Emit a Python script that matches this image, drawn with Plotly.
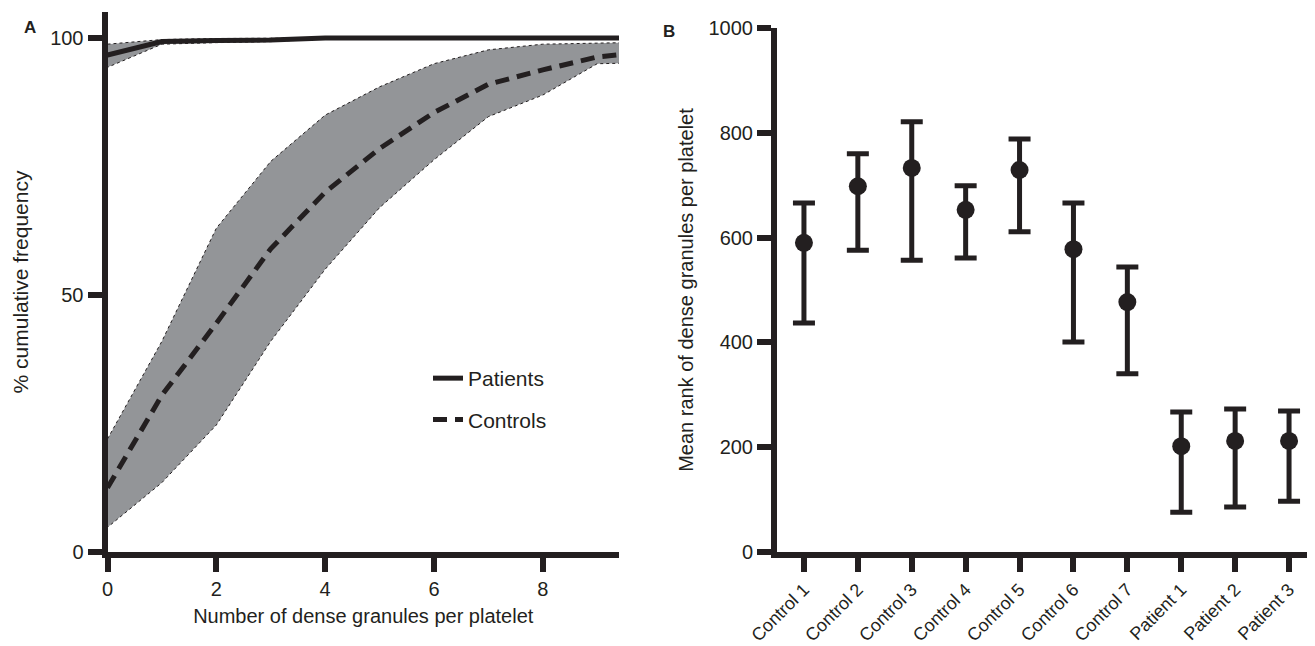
import plotly.graph_objects as go

# ---- Panel A data ----
granules = [0, 1, 2, 3, 4, 5, 6, 7, 8, 9, 10]
patients_mean = [96.7, 99.3, 99.5, 99.6, 100, 100, 100, 100, 100, 100, 100]
patients_upper = [98.8, 99.7, 99.9, 100, 100, 100, 100, 100, 100, 100, 100]
patients_lower = [94.3, 98.8, 99.1, 99.3, 99.8, 100, 100, 100, 100, 100, 100]
controls_mean = [12.5, 30.5, 44.5, 59, 70, 78.5, 85.5, 91, 93.8, 96.3, 97.4]
controls_upper = [22, 41, 63, 76, 85, 90.5, 95, 97.7, 98.8, 99, 99.2]
controls_lower = [4.8, 13.5, 24.7, 41, 55, 67, 76.3, 84.7, 88.9, 95, 95.2]

# ---- Panel B data ----
subjects = ["Control 1", "Control 2", "Control 3", "Control 4", "Control 5",
            "Control 6", "Control 7", "Patient 1", "Patient 2", "Patient 3"]
rank_mean = [590, 698, 733, 653, 729, 578, 477, 202, 212, 212]
rank_upper = [666, 760, 821, 699, 788, 666, 544, 267, 273, 269]
rank_lower = [437, 576, 557, 561, 611, 401, 340, 76, 86, 97]

INK = "#231f20"
BAND = "#939598"
FONT = "Liberation Sans, Arial, sans-serif"

fig = go.Figure()

def band(lo, hi):
    xs = granules + granules[::-1]
    ys = hi + lo[::-1]
    return go.Scatter(x=xs, y=ys, fill="toself", fillcolor=BAND, mode="lines",
                      line=dict(color=INK, width=1, dash="dot"),
                      showlegend=False, hoverinfo="skip", xaxis="x", yaxis="y")

fig.add_trace(band(controls_lower, controls_upper))
fig.add_trace(band(patients_lower, patients_upper))
fig.add_trace(go.Scatter(x=granules, y=patients_mean, mode="lines", name="Patients",
                         legendgroup="p",
                         line=dict(color=INK, width=5), xaxis="x", yaxis="y"))
fig.add_trace(go.Scatter(x=granules, y=controls_mean, mode="lines", name="Controls",
                         legendgroup="c",
                         line=dict(color=INK, width=5, dash="14px,8px"),
                         xaxis="x", yaxis="y"))

idx = list(range(len(subjects)))
fig.add_trace(go.Scatter(
    x=idx, y=rank_mean, mode="markers", showlegend=False,
    marker=dict(color=INK, size=18, symbol="circle"),
    error_y=dict(type="data", symmetric=False,
                 array=[u - m for u, m in zip(rank_upper, rank_mean)],
                 arrayminus=[m - l for m, l in zip(rank_mean, rank_lower)],
                 color=INK, thickness=5, width=11),
    xaxis="x2", yaxis="y2"))

W, H = 1315, 646
OFF = 8  # the page body adds an 8px margin; place everything in screen pixels


def px_x(p):
    return (p - OFF) / W


def px_y(p):
    return (H - (p - OFF)) / H


axis_common = dict(showline=True, linewidth=6, linecolor=INK, ticks="outside",
                   ticklen=14, tickwidth=6, tickcolor=INK, showgrid=False,
                   zeroline=False, automargin=False,
                   tickfont=dict(family=FONT, size=20, color=INK),
                   title_font=dict(family=FONT, size=20, color=INK))

fig.update_layout(
    width=W, height=H, margin=dict(l=0, r=0, t=0, b=0, pad=0, autoexpand=False),
    paper_bgcolor="white", plot_bgcolor="white",
    font=dict(family=FONT, color=INK),
    xaxis=dict(domain=[px_x(107.5), px_x(619)], range=[0, 9.4], anchor="y",
               tickvals=[0, 2, 4, 6, 8],
               title=dict(text="Number of dense granules per platelet", standoff=12),
               **axis_common),
    yaxis=dict(domain=[px_y(552), px_y(12)], range=[0, 105.06], anchor="x",
               tickvals=[0, 50, 100],
               title=dict(text="% cumulative frequency", standoff=18),
               **{**axis_common, "title_font": dict(family=FONT, size=21, color=INK)}),
    xaxis2=dict(domain=[px_x(777), min(1.0, px_x(1316))], range=[-0.5, 9.5], anchor="y2",
                tickvals=idx, ticktext=subjects, tickangle=-45,
                **{**axis_common, "tickfont": dict(family=FONT, size=18, color=INK)}),
    yaxis2=dict(domain=[px_y(552), px_y(28)], range=[0, 1000], anchor="x2",
                tickvals=[0, 200, 400, 600, 800, 1000],
                title=dict(text="Mean rank of dense granules per platelet", standoff=12),
                **axis_common),
    legend=dict(x=px_x(428), y=px_y(358), xanchor="left", yanchor="top",
                bgcolor="rgba(0,0,0,0)", font=dict(family=FONT, size=21, color=INK),
                tracegroupgap=11, traceorder="grouped"),
    annotations=[
        dict(text="<b>A</b>", x=px_x(22), y=px_y(16), xref="paper", yref="paper",
             showarrow=False, font=dict(family=FONT, size=17, color=INK)),
        dict(text="<b>B</b>", x=px_x(669), y=px_y(20), xref="paper", yref="paper",
             showarrow=False, font=dict(family=FONT, size=17, color=INK)),
    ],
)

fig.write_html("out.html")
